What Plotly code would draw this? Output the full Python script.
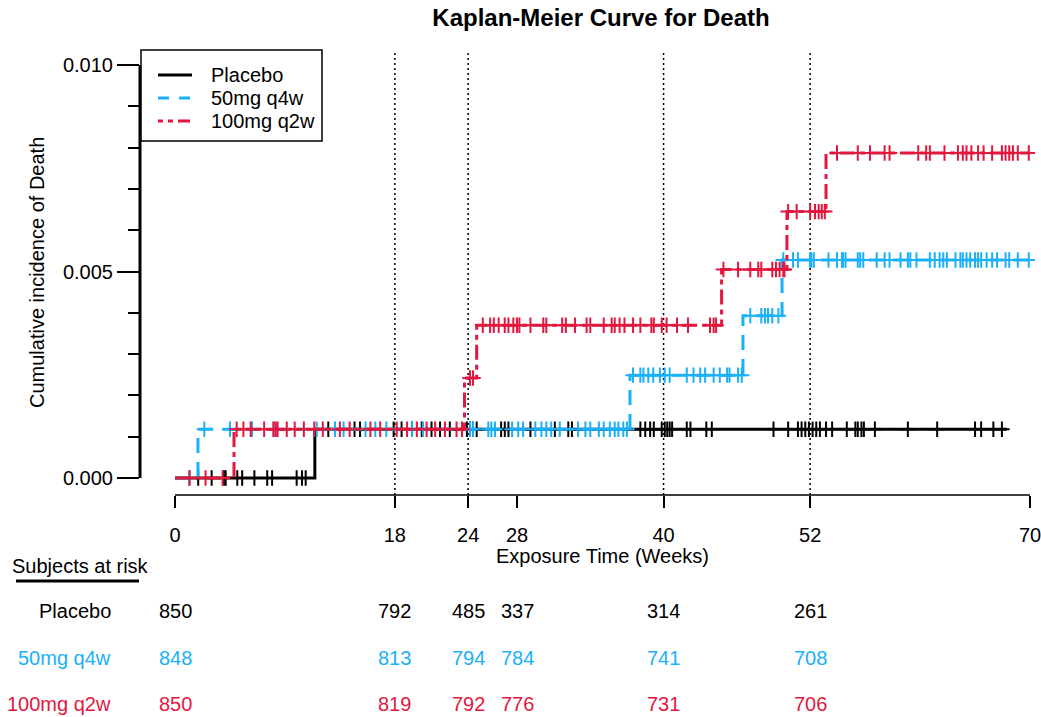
import numpy as np
import plotly.graph_objects as go

# ---- Data -----------------------------------------------------------------
groups = ["Placebo", "50mg q4w", "100mg q2w"]

# event times (weeks) and cumulative incidence after each event
pbo_event_t = [11.45]
pbo_event_cif = [0.00118]
pbo_end = 68.1

q4w_event_t = [1.88, 37.25, 46.5, 49.7]
q4w_event_cif = [0.00118, 0.00249, 0.00393, 0.00528]
q4w_end = 70.0

q2w_event_t = [4.83, 23.7, 24.7, 44.75, 50.1, 53.3]
q2w_event_cif = [0.00118, 0.00242, 0.0037, 0.00505, 0.00645, 0.00787]
q2w_end = 70.0

# censoring times (weeks)
pbo_censor = [1.9, 3.0, 4.0, 4.15, 5.1, 5.5, 6.5, 7.55, 7.95, 9.96, 10.4, 10.7,
              12.55, 14.7, 15.15, 17.9, 18.55, 19.4, 20.2, 21.0, 21.7, 22.5,
              23.9, 24.15, 24.4, 24.7, 26.7, 27.0, 27.3, 29.1, 31.1, 32.2, 32.5,
              38.1, 38.5, 38.9, 39.2, 39.85, 40.1, 40.3, 40.5, 40.7, 41.9, 42.2,
              43.5, 43.95, 49.0, 50.2, 51.0, 51.3, 51.6, 51.9, 52.2, 52.5, 52.8,
              53.3, 53.8, 55.0, 55.7, 55.9, 56.2, 56.4, 57.3, 60.0, 62.4, 65.5,
              66.0, 67.0, 67.7]
q4w_censor = [1.15, 2.4, 4.5, 6.3, 8.1, 11.6, 13.1, 13.8, 15.6, 16.4, 17.3,
              19.4, 20.3, 24.15, 24.4, 25.65, 25.9, 26.2, 27.6, 28.1, 28.5,
              29.5, 30.0, 30.4, 30.8, 31.5, 33.0, 33.6, 34.0, 34.7, 35.1, 35.6,
              36.0, 36.3, 36.7, 37.0,
              37.5, 38.1, 38.35, 38.75, 39.15, 39.7, 40.1, 40.5, 41.9, 42.45,
              43.0, 43.4, 44.1, 44.6, 45.2, 45.4, 46.1, 46.4,
              47.1, 48.0, 48.3, 48.55, 48.9, 49.4,
              49.8, 50.6, 51.0, 52.0, 52.1, 52.3, 53.5, 54.2, 54.6, 54.7, 54.9,
              55.9, 56.1, 56.35, 57.45, 58.1, 58.5, 59.4, 60.0, 60.2, 60.7,
              61.8, 62.2, 62.6, 62.9, 63.2, 63.9, 64.3, 64.5, 64.8, 65.1, 65.5,
              65.75, 66.0, 66.45, 66.9, 67.3, 68.0, 68.3, 69.0, 69.9]
q2w_censor = [1.2, 2.5, 3.9,
              5.05, 5.6, 6.2, 7.3, 8.05, 8.25, 8.4, 9.15, 9.8, 10.55, 11.4,
              12.1, 13.5, 14.3, 16.0, 16.8, 18.15, 19.0, 19.8, 20.6, 21.3, 22.1,
              23.05, 23.5,
              24.15, 24.4,
              25.2, 25.8, 26.1, 26.5, 27.0, 27.3, 27.7, 28.0, 28.2, 29.1, 30.15,
              30.4, 31.7, 32.0, 32.75, 33.7, 34.0, 35.1, 35.75, 36.0, 36.4,
              36.8, 37.5, 38.1, 39.0, 39.2, 39.85, 40.25, 41.1, 42.0, 43.8,
              44.1, 44.3,
              44.9, 46.1, 47.1, 47.75, 48.0, 48.9, 49.2, 49.5, 49.8, 49.9,
              50.2, 50.9, 52.0, 52.4, 52.7, 52.95, 53.2,
              54.2, 55.9, 56.9, 58.1, 58.5, 60.85, 61.5, 61.8, 63.0, 64.1,
              64.5, 64.8, 65.2, 65.75, 66.2, 66.9, 67.7, 68.0, 68.3, 68.6,
              69.0, 69.9]

# subjects at risk
risk_times = [0, 18, 24, 28, 40, 52]
pbo_risk = [850, 792, 485, 337, 314, 261]
q4w_risk = [848, 813, 794, 784, 741, 708]
q2w_risk = [850, 819, 792, 776, 731, 706]

x_ticks = [0, 18, 24, 28, 40, 52, 70]
ref_weeks = [18, 24, 40, 52]

# ---- Styling ----------------------------------------------------------------
BLACK = "#000000"
BLUE = "#1AB0FA"
RED = "#E3173E"
FONT = "Liberation Sans, Arial, sans-serif"
FS = 20

W, H = 1041, 717
L, R, T, B = 140, 6, 50, 222
PW, PH = W - L - R, H - T - B


def xp(px):
    return (px - L) / PW


def yp(py):
    return (T + PH - py) / PH


X0 = -35 / 12.214
X1 = 70 + 5 / 12.214

series = [
    (groups[0], pbo_event_t, pbo_event_cif, pbo_end, pbo_censor, pbo_risk,
     BLACK, "solid", 3),
    (groups[1], q4w_event_t, q4w_event_cif, q4w_end, q4w_censor, q4w_risk,
     BLUE, "15px,9px", 3),
    (groups[2], q2w_event_t, q2w_event_cif, q2w_end, q2w_censor, q2w_risk,
     RED, "15px,5px,5px,5px", 3),
]

fig = go.Figure()

for name, ev_t, ev_c, end, cens, _, col, dash, lw in series:
    xs = [0] + list(ev_t) + [end]
    ys = [0] + list(ev_c) + [ev_c[-1]]
    fig.add_trace(go.Scatter(
        x=xs, y=ys, mode="lines", name=name, showlegend=False,
        line=dict(color=col, width=lw, dash=dash, shape="hv"),
        hoverinfo="skip"))
    levels = np.array([0] + list(ev_c))
    idx = np.searchsorted(np.array(ev_t), np.array(cens), side="right")
    fig.add_trace(go.Scatter(
        x=cens, y=levels[idx], mode="markers", showlegend=False,
        marker=dict(symbol="cross-thin-open", size=11, color=col,
                    line=dict(color=col, width=2)),
        hoverinfo="skip"))

shapes = []
for wk in ref_weeks:
    shapes.append(dict(type="line", xref="x", yref="paper", x0=wk, x1=wk,
                       y0=0, y1=1, layer="below",
                       line=dict(color=BLACK, width=1.5, dash="2px,3px")))
# x axis line spans only the time range
shapes.append(dict(type="line", xref="x", yref="paper", x0=0, x1=70,
                   y0=0, y1=0, line=dict(color=BLACK, width=1.5)))
# y axis line spans only the value range
shapes.append(dict(type="line", xref="paper", yref="y", x0=0, x1=0,
                   y0=0, y1=0.010, line=dict(color=BLACK, width=3)))
# underline for the risk table heading
shapes.append(dict(type="line", xref="paper", yref="paper",
                   x0=xp(16), x1=xp(139), y0=yp(581), y1=yp(581),
                   line=dict(color=BLACK, width=3)))

annotations = [
    dict(text="Cumulative incidence of Death", textangle=-90,
         xref="paper", yref="paper", x=xp(37), y=yp(273),
         xanchor="center", yanchor="middle", showarrow=False,
         font=dict(size=FS, color=BLACK, family=FONT)),
    dict(text="Exposure Time (Weeks)", xref="x", yref="paper",
         x=35, y=yp(556), xanchor="center", yanchor="middle",
         showarrow=False, font=dict(size=FS, color=BLACK, family=FONT)),
    dict(text="Subjects at risk", xref="paper", yref="paper",
         x=xp(10), y=yp(566), xanchor="left", yanchor="middle",
         showarrow=False, font=dict(size=FS, color=BLACK, family=FONT)),
]

# legend box with line samples
shapes.append(dict(type="rect", xref="paper", yref="paper",
                   x0=xp(141), x1=xp(322), y0=yp(141), y1=yp(50),
                   fillcolor="white", line=dict(color=BLACK, width=1.5)))
legend_y = [75, 98, 121]
for (name, _, _, _, _, _, col, dash, lw), ly in zip(series, legend_y):
    shapes.append(dict(type="line", xref="paper", yref="paper",
                       x0=xp(158), x1=xp(192), y0=yp(ly), y1=yp(ly),
                       line=dict(color=col, width=lw,
                                 dash="solid" if dash == "solid" else
                                 ("11px,10px" if col == BLUE else
                                  "5px,5px,5px,5px,12px,3px"))))
    annotations.append(dict(text=name, xref="paper", yref="paper",
                            x=xp(209), y=yp(ly), xanchor="left",
                            yanchor="middle", showarrow=False,
                            font=dict(size=FS, color=BLACK, family=FONT)))

row_y = [611, 658, 704]
for (name, _, _, _, _, risk, col, _, _), ry in zip(series, row_y):
    annotations.append(dict(text=name, xref="paper", yref="paper",
                            x=xp(113), y=yp(ry), xanchor="right",
                            yanchor="middle", showarrow=False,
                            font=dict(size=FS, color=col, family=FONT)))
    for t, n in zip(risk_times, risk):
        annotations.append(dict(text=str(n), xref="x", yref="paper",
                                x=t, y=yp(ry), xanchor="center",
                                yanchor="middle", showarrow=False,
                                font=dict(size=FS, color=col, family=FONT)))

fig.update_layout(
    width=W, height=H,
    margin=dict(l=L, r=R, t=T, b=B, pad=0, autoexpand=False),
    paper_bgcolor="white", plot_bgcolor="white",
    font=dict(family=FONT, size=FS, color=BLACK),
    title=dict(text="<b>Kaplan-Meier Curve for Death</b>",
               x=601 / W, xref="container", xanchor="center",
               y=1 - 18 / H, yref="container", yanchor="middle",
               font=dict(size=24, family=FONT, color=BLACK)),
    showlegend=False,
    xaxis=dict(range=[X0, X1], showgrid=False, zeroline=False,
               showline=False, tickmode="array", tickvals=x_ticks,
               ticktext=[str(v) for v in x_ticks], automargin=False,
               ticklabeloverflow="allow",
               ticks="outside", ticklen=12, tickwidth=1.5,
               tickcolor=BLACK, ticklabelstandoff=10,
               tickfont=dict(size=FS, family=FONT, color=BLACK)),
    yaxis=dict(range=[-17 / 41300, 0.010 + 15 / 41300], showgrid=False,
               zeroline=False, showline=False, tick0=0, dtick=0.005,
               automargin=False,
               tickformat=".3f", ticks="outside", ticklen=22, tickwidth=2,
               tickcolor=BLACK,
               tickfont=dict(size=FS, family=FONT, color=BLACK),
               minor=dict(dtick=0.001, tick0=0, ticks="outside",
                          ticklen=11, tickwidth=1.5, tickcolor=BLACK,
                          showgrid=False)),
    shapes=shapes,
    annotations=annotations,
)

fig.write_html("out.html")
